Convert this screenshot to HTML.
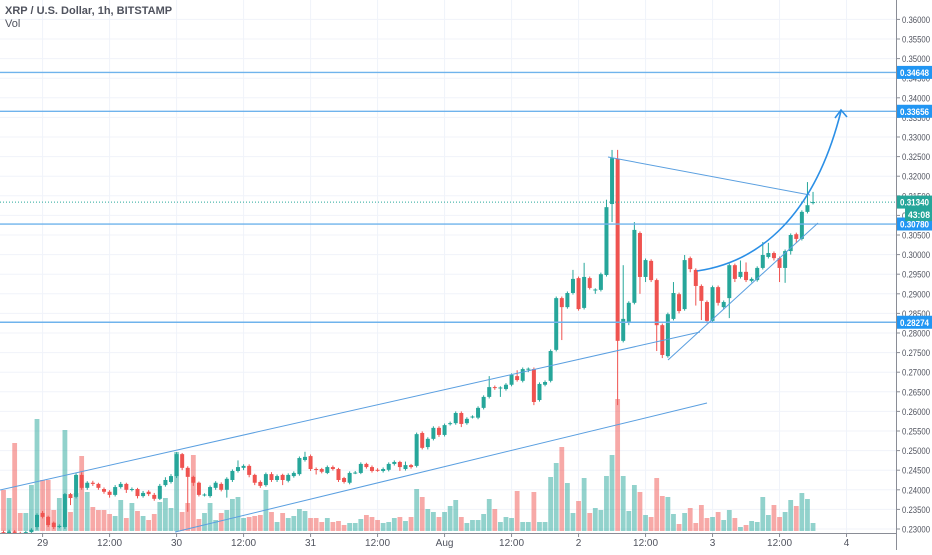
<!DOCTYPE html>
<html><head><meta charset="utf-8">
<style>
html,body{margin:0;padding:0;background:#fff;}
body{width:932px;height:550px;overflow:hidden;font-family:"Liberation Sans",sans-serif;}
svg text{font-family:"Liberation Sans",sans-serif;}
</style></head>
<body>
<svg id="chart" width="932" height="550" viewBox="0 0 932 550" xmlns="http://www.w3.org/2000/svg">
  <g id="grid"></g>
  <g id="vol"></g>
  <g id="candles"></g>
  <g id="drawings"></g>
  <g id="axes"></g>
  <text x="5" y="14" font-size="11" font-weight="bold" fill="#50535e">XRP / U.S. Dollar, 1h, BITSTAMP</text>
  <text x="5" y="27" font-size="11" fill="#50535e">Vol</text>
</svg>
<script>
const opens = [.2292,.2288,.2294,.2290,.2286,.2292,.2305,.2341,.2331,.2316,.2305,.2305,.2389,.2382,.2438,.2405,.2418,.2415,.2402,.2395,
.2387,.2407,.2415,.2402,.2402,.2384,.2395,.2387,.2377,.2412,.2420,.2435,.2491,.2456,.2433,.2418,.2387,.2384,.2405,.2415,
.2400,.2425,.2448,.2456,.2461,.2438,.2420,.2412,.2440,.2425,.2438,.2423,.2435,.2440,.2476,.2486,.2453,.2453,.2443,.2458,
.2453,.2430,.2418,.2443,.2443,.2466,.2458,.2451,.2448,.2451,.2466,.2471,.2453,.2463,.2461,.2545,.2509,.2530,.2558,.2540,
.2568,.2570,.2596,.2570,.2586,.2584,.2609,.2637,.2662,.2660,.2657,.2668,.2690,.2678,.2708,.2708,.2629,.2668,.2678,.2757,
.2889,.2866,.2902,.2940,.2864,.2940,.2910,.2910,.2948,.3129,.3244,.2780,.2828,.2877,.3055,.2943,.2984,.2935,.2820,.2741,
.2836,.2899,.2861,.2991,.2961,.2920,.2879,.2831,.2917,.2866,.2889,.2973,.2943,.2956,.2933,.2935,.2966,.2994,.3004,.2991,
.2966,.3009,.3052,.3040,.3109,.3132];
const closes = [.2288,.2294,.2290,.2286,.2292,.2298,.2336,.2331,.2310,.2305,.2308,.2389,.2379,.2438,.2405,.2418,.2415,.2405,.2395,.2387,
.2407,.2415,.2400,.2402,.2384,.2392,.2389,.2377,.2410,.2425,.2435,.2491,.2456,.2433,.2418,.2387,.2388,.2407,.2418,.2400,
.2428,.2448,.2458,.2461,.2438,.2418,.2410,.2440,.2425,.2435,.2425,.2438,.2443,.2481,.2484,.2453,.2452,.2446,.2458,.2453,
.2425,.2420,.2443,.2444,.2466,.2458,.2448,.2450,.2453,.2466,.2471,.2458,.2463,.2458,.2542,.2507,.2530,.2558,.2540,.2565,
.2570,.2596,.2568,.2581,.2587,.2609,.2637,.2662,.2660,.2661,.2668,.2693,.2680,.2708,.2709,.2624,.2670,.2675,.2754,.2889,
.2866,.2902,.2938,.2861,.2943,.2915,.2911,.2950,.3121,.3246,.2780,.2836,.2877,.3063,.2943,.2986,.2935,.2820,.2744,.2848,
.2902,.2856,.2986,.2963,.2920,.2882,.2831,.2917,.2877,.2879,.2973,.2938,.2956,.2935,.2938,.2966,.2999,.3004,.2991,.2966,
.3009,.3050,.3040,.3109,.3126,.3134];
const highs = [.2296,.2298,.2297,.2293,.2295,.2302,.2340,.2346,.2334,.2319,.2312,.2392,.2392,.2442,.2445,.2422,.2423,.2418,.2406,.2399,
.2412,.2420,.2418,.2406,.2405,.2397,.2399,.2392,.2415,.2432,.2440,.2496,.2494,.2460,.2436,.2421,.2391,.2411,.2422,.2419,
.2432,.2452,.2475,.2465,.2465,.2441,.2424,.2444,.2445,.2439,.2441,.2442,.2447,.2485,.2497,.2490,.2457,.2456,.2462,.2462,
.2456,.2433,.2447,.2448,.2470,.2469,.2462,.2455,.2457,.2470,.2475,.2474,.2472,.2466,.2546,.2549,.2534,.2562,.2562,.2569,
.2574,.2600,.2600,.2585,.2590,.2613,.2641,.2690,.2666,.2664,.2672,.2697,.2705,.2712,.2712,.2712,.2674,.2679,.2758,.2893,
.2893,.2906,.2961,.2944,.2979,.2944,.2914,.2954,.3140,.3267,.3267,.2973,.2881,.3083,.3059,.2990,.2988,.2939,.2824,.2852,
.2930,.2903,.2999,.2995,.2965,.2924,.2883,.2921,.2921,.2883,.2977,.2977,.2985,.2980,.2942,.2970,.3032,.3030,.3008,.2995,
.3013,.3054,.3056,.3113,.3185,.3160];
const lows = [.2284,.2285,.2287,.2282,.2283,.2290,.2298,.2327,.2305,.2300,.2302,.2300,.2361,.2378,.2400,.2400,.2410,.2400,.2390,.2380,
.2383,.2403,.2392,.2396,.2378,.2380,.2384,.2372,.2374,.2408,.2416,.2430,.2450,.2344,.2410,.2383,.2383,.2380,.2400,.2396,
.2380,.2420,.2444,.2450,.2432,.2412,.2405,.2408,.2420,.2420,.2412,.2419,.2431,.2436,.2472,.2448,.2439,.2442,.2440,.2449,
.2420,.2416,.2414,.2440,.2440,.2454,.2444,.2446,.2444,.2447,.2462,.2448,.2449,.2454,.2457,.2503,.2503,.2526,.2535,.2536,
.2564,.2566,.2560,.2566,.2582,.2580,.2605,.2633,.2655,.2637,.2653,.2664,.2676,.2674,.2700,.2616,.2625,.2664,.2674,.2753,
.2782,.2862,.2898,.2857,.2860,.2911,.2900,.2906,.2944,.3083,.2616,.2776,.2820,.2873,.2900,.2930,.2930,.2754,.2736,.2737,
.2832,.2850,.2857,.2955,.2870,.2833,.2825,.2827,.2870,.2860,.2838,.2930,.2939,.2930,.2929,.2931,.2962,.2990,.2985,.2930,
.2928,.3000,.3030,.3036,.3105,.3128];
const volumes = [41,33,88,18,18,46,112,51,51,21,33,101,19,38,75,39,24,21,21,17,
15,31,13,28,20,15,11,17,29,33,23,79,19,28,76,12,18,28,11,18,
21,32,34,13,14,15,16,41,19,9,18,13,15,22,20,13,13,9,13,9,
10,6,8,8,12,16,14,11,8,9,13,14,10,14,42,34,22,19,14,19,
25,31,14,8,11,11,17,32,22,9,14,13,40,9,9,39,9,9,54,68,
84,48,18,30,53,18,23,21,55,76,132,55,20,46,39,16,14,53,35,34,
17,7,18,23,8,26,13,14,19,11,21,13,4,6,10,9,34,16,26,14,
19,31,25,38,32,8];
const priceTicks = [0.36,0.355,0.35,0.345,0.34,0.335,0.33,0.325,0.32,0.315,0.31,0.305,0.30,0.295,0.29,0.285,0.28,0.275,0.27,0.265,0.26,0.255,0.25,0.245,0.24,0.235,0.23];
const timeLabels = ["29","12:00","30","12:00","31","12:00","Aug","12:00","2","12:00","3","12:00","4"];
const timeLabelBars = [7,19,31,43,55,67,79,91,103,115,127,139,151];
const hLevels = [0.34648,0.33656,0.3078,0.28274];
const lastPrice = 0.3134;

const NS="http://www.w3.org/2000/svg";
const PLOT_R=896, PLOT_B=533;
const yP = p => 19.4 + (0.36 - p) * 3920;
const xB = i => 3.5 + 5.583 * i;
const yV = v => 531 - v * 1.0;
function mk(parent, tag, attrs){const e=document.createElementNS(NS,tag);for(const k in attrs)e.setAttribute(k,attrs[k]);parent.appendChild(e);return e;}

const grid=document.getElementById('grid');
const clipDefs=mk(document.getElementById('chart'),'defs',{});
const cp=mk(clipDefs,'clipPath',{id:'plotclip'});
mk(cp,'rect',{x:0,y:0,width:PLOT_R,height:PLOT_B});
grid.setAttribute('clip-path','url(#plotclip)');
priceTicks.forEach(p=>{
  const l=mk(grid,'line',{x1:0,x2:PLOT_R,y1:yP(p),y2:yP(p),stroke:'#f0f3fa','stroke-width':1});
  
  
});
timeLabelBars.forEach(b=>{
  const l=mk(grid,'line',{x1:xB(b),x2:xB(b),y1:0,y2:PLOT_B,stroke:'#f0f3fa','stroke-width':1});
  
  
});

const vol=document.getElementById('vol');
vol.setAttribute('clip-path','url(#plotclip)');
volumes.forEach((v,i)=>{
  const up=closes[i]>=opens[i];
  const r=mk(vol,'rect',{x:xB(i)-2.4,y:yV(v),width:4.8,height:531-yV(v),fill:up?'rgba(38,166,154,0.5)':'rgba(239,83,80,0.5)'});
  
  
});

const cg=document.getElementById('candles');
cg.setAttribute('clip-path','url(#plotclip)');
opens.forEach((o,i)=>{
  const c=closes[i], up=c>=o, col=up?'#26a69a':'#ef5350';
  const g=mk(cg,'g',{});
  
  
  const x=xB(i);
  mk(g,'line',{x1:x,x2:x,y1:yP(highs[i]),y2:yP(lows[i]),stroke:col,'stroke-width':1});
  const top=yP(Math.max(o,c)), bot=yP(Math.min(o,c));
  mk(g,'rect',{x:x-2,y:top,width:4,height:Math.max(1,bot-top),fill:col});
});

const dr=document.getElementById('drawings');
dr.setAttribute('clip-path','url(#plotclip)');
hLevels.forEach(p=>{
  const l=mk(dr,'line',{x1:0,x2:PLOT_R,y1:yP(p),y2:yP(p),stroke:'#6fb3ec','stroke-width':1.4});
  
  
});
const lp=mk(dr,'line',{x1:0,x2:PLOT_R,y1:yP(lastPrice),y2:yP(lastPrice),stroke:'#26a69a','stroke-width':1,'stroke-dasharray':'1,2'});


const trend=[[0,490,700,332],[175,532,707,403],[608,157,810,195],[668,360,818,223]];
trend.forEach(t=>{
  const l=mk(dr,'line',{x1:t[0],y1:t[1],x2:t[2],y2:t[3],stroke:'#5a9fe0','stroke-width':1});
  
  
});
const curve=mk(dr,'path',{d:'M697,271 C760,262 815,215 841,111',stroke:'#2b8fe6','stroke-width':1.6,fill:'none'});


const arrow=mk(dr,'path',{d:'M835,118 L841,110 L847,117',stroke:'#2b8fe6','stroke-width':1.6,fill:'none'});



const ax=document.getElementById('axes');
mk(ax,'rect',{x:PLOT_R,y:0,width:36,height:550,fill:'#fff'});
mk(ax,'rect',{x:0,y:PLOT_B,width:932,height:17,fill:'#fff'});
mk(ax,'line',{x1:PLOT_R+0.5,x2:PLOT_R+0.5,y1:0,y2:550,stroke:'#8a8d96','stroke-width':1});
mk(ax,'line',{x1:0,x2:PLOT_R,y1:PLOT_B+0.5,y2:PLOT_B+0.5,stroke:'#8a8d96','stroke-width':1});
priceTicks.forEach(p=>{
  const y=yP(p);
  mk(ax,'line',{x1:PLOT_R,x2:PLOT_R+4,y1:y,y2:y,stroke:'#8a8d96'});
  const t=mk(ax,'text',{x:902,y:y+3.5,'font-size':9.5,fill:'#50535e',textLength:28,lengthAdjust:'spacingAndGlyphs'});
  t.textContent=p.toFixed(5);
  
  
});
timeLabels.forEach((s,k)=>{
  const x=xB(timeLabelBars[k]);
  mk(ax,'line',{x1:x,x2:x,y1:PLOT_B,y2:PLOT_B+4,stroke:'#8a8d96'});
  const t=mk(ax,'text',{x:x,y:546,'font-size':10,fill:'#50535e','text-anchor':'middle'});
  t.textContent=s;
  
  
});
function tag(p,txt,bg,dy,xs,tl){
  const y=yP(p)+(dy||0);
  const x0=xs||897;
  const g=mk(ax,'g',{});
  
  
  mk(g,'rect',{x:x0,y:y-6.5,width:935-x0,height:13,fill:bg});
  const t=mk(g,'text',{x:x0+3,y:y+3.5,'font-size':9.5,'font-weight':'bold',fill:'#fff',textLength:tl||29,lengthAdjust:'spacingAndGlyphs'});
  t.textContent=txt;
}
hLevels.forEach(p=>tag(p,p.toFixed(5),'#2196f3'));
tag(lastPrice,lastPrice.toFixed(5),'#26a69a');
tag(lastPrice,'43:08','#26a69a',12.5,905,22);
</script>
</body></html>
